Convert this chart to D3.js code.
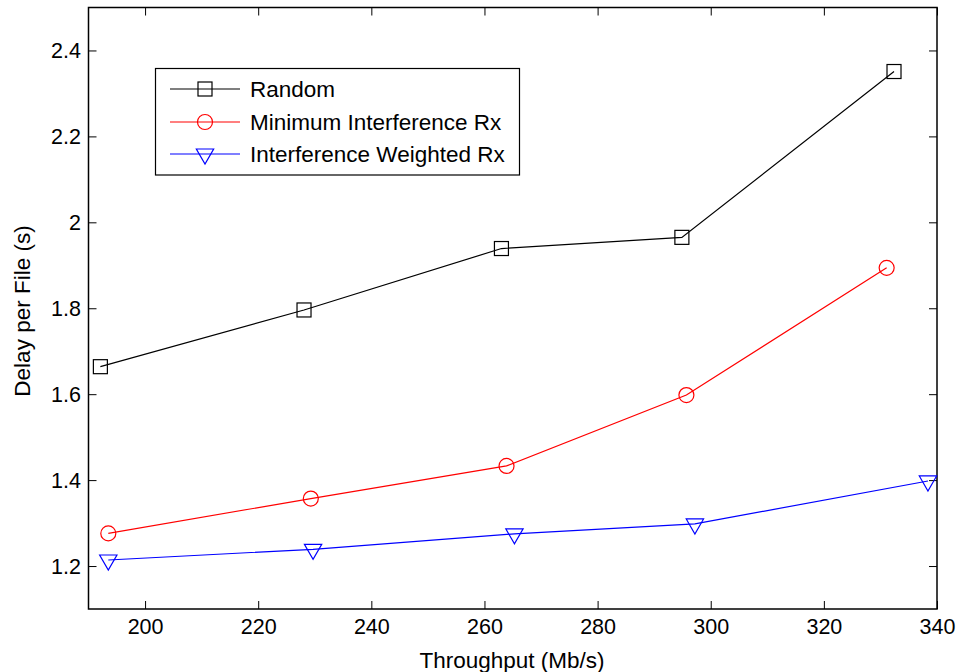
<!DOCTYPE html>
<html><head><meta charset="utf-8">
<script src="https://cdn.jsdelivr.net/npm/d3@7"></script>
<style>body{margin:0;background:#fff;} text{font-family:"Liberation Sans",Arial,sans-serif;}</style>
</head><body>
<svg id="c" width="961" height="672"></svg>
<script>
const seriesNames = ["Random", "Minimum Interference Rx", "Interference Weighted Rx"];
const seriesColors = ["#000000", "#ff0000", "#0000ff"];
const seriesMarkers = ["square", "circle", "triangle"];
const randomX = [192.1, 228.1, 263.0, 294.9, 332.4];
const randomY = [1.664, 1.796, 1.939, 1.965, 2.351];
const minIntX = [193.5, 229.3, 263.9, 295.7, 331.1];
const minIntY = [1.276, 1.357, 1.433, 1.598, 1.894];
const weightedX = [193.5, 229.7, 265.3, 297.2, 338.4];
const weightedY = [1.214, 1.239, 1.275, 1.298, 1.398];
const xTicks = [200, 220, 240, 260, 280, 300, 320, 340];
const yTicks = [1.2, 1.4, 1.6, 1.8, 2.0, 2.2, 2.4];
const xLabel = "Throughput (Mb/s)";
const yLabel = "Delay per File (s)";

const L = 88.5, R = 937, T = 7.5, B = 609;
const svg = d3.select("#c");
const x = d3.scaleLinear().domain([190, 340]).range([L, R]);
const y = d3.scaleLinear().domain([1.1, 2.5]).range([B, T]);
const fs = 21.5;

const tl = 8;
const gB = svg.append("g").attr("transform", `translate(0,${B})`)
  .call(d3.axisBottom(x).tickValues(xTicks).tickSizeInner(-tl).tickSizeOuter(0).tickPadding(10).tickFormat(d3.format("d")));
const gT = svg.append("g").attr("transform", `translate(0,${T})`)
  .call(d3.axisTop(x).tickValues(xTicks).tickSizeInner(-tl).tickSizeOuter(0).tickFormat(""));
const gL = svg.append("g").attr("transform", `translate(${L},0)`)
  .call(d3.axisLeft(y).tickValues(yTicks).tickSizeInner(-tl).tickSizeOuter(0).tickPadding(7.5).tickFormat(d => d3.format("")(+d.toFixed(1))));
const gR = svg.append("g").attr("transform", `translate(${R},0)`)
  .call(d3.axisRight(y).tickValues(yTicks).tickSizeInner(-tl).tickSizeOuter(0).tickFormat(""));
[gB, gT, gL, gR].forEach(g => {
  g.select(".domain").remove();
  g.selectAll(".tick line").attr("stroke", "#000").attr("stroke-width", 1);
  g.selectAll("text").attr("font-size", fs).attr("fill", "#000").attr("font-family", "Liberation Sans, Arial, sans-serif");
});
gL.selectAll("text").attr("dy", "0.35em");
svg.append("rect").attr("x", L).attr("y", T).attr("width", R - L).attr("height", B - T)
  .attr("fill", "none").attr("stroke", "#000").attr("stroke-width", 1.5);

svg.append("text").attr("x", 512).attr("y", 668).attr("text-anchor", "middle")
  .attr("font-size", 22.5).text(xLabel);
svg.append("text").attr("transform", `translate(30,311) rotate(-90)`).attr("text-anchor", "middle")
  .attr("font-size", 22.5).text(yLabel);

function marker(g, type, cx, cy, color) {
  if (type === "square") {
    g.append("rect").attr("x", cx - 7).attr("y", cy - 7).attr("width", 14).attr("height", 14)
      .attr("fill", "none").attr("stroke", color).attr("stroke-width", 1.2);
  } else if (type === "circle") {
    g.append("circle").attr("cx", cx).attr("cy", cy).attr("r", 7.5)
      .attr("fill", "none").attr("stroke", color).attr("stroke-width", 1.2);
  } else {
    const r = 10, h = r * Math.sqrt(3) / 2;
    g.append("path").attr("d", `M${cx - h},${cy - r / 2}L${cx + h},${cy - r / 2}L${cx},${cy + r}Z`)
      .attr("fill", "none").attr("stroke", color).attr("stroke-width", 1.2);
  }
}

const allData = [
  randomX.map((v, i) => [v, randomY[i]]),
  minIntX.map((v, i) => [v, minIntY[i]]),
  weightedX.map((v, i) => [v, weightedY[i]])
];
const line = d3.line().x(d => x(d[0])).y(d => y(d[1]));
allData.forEach((d, i) => {
  const g = svg.append("g");
  g.append("path").attr("d", line(d)).attr("fill", "none").attr("stroke", seriesColors[i]).attr("stroke-width", 1.2);
  d.forEach(p => marker(g, seriesMarkers[i], x(p[0]), y(p[1]), seriesColors[i]));
});

const lg = svg.append("g");
lg.append("rect").attr("x", 155.5).attr("y", 68.5).attr("width", 364).attr("height", 106.5)
  .attr("fill", "#fff").attr("stroke", "#000").attr("stroke-width", 1.2);
const ly = [89, 122, 154];
seriesNames.forEach((n, i) => {
  lg.append("line").attr("x1", 170).attr("x2", 240).attr("y1", ly[i]).attr("y2", ly[i])
    .attr("stroke", seriesColors[i]).attr("stroke-width", 1.2);
  marker(lg, seriesMarkers[i], 205, ly[i], seriesColors[i]);
  lg.append("text").attr("x", 250).attr("y", ly[i]).attr("dy", "0.35em").attr("font-size", 22.5).text(n);
});
</script>
</body></html>
